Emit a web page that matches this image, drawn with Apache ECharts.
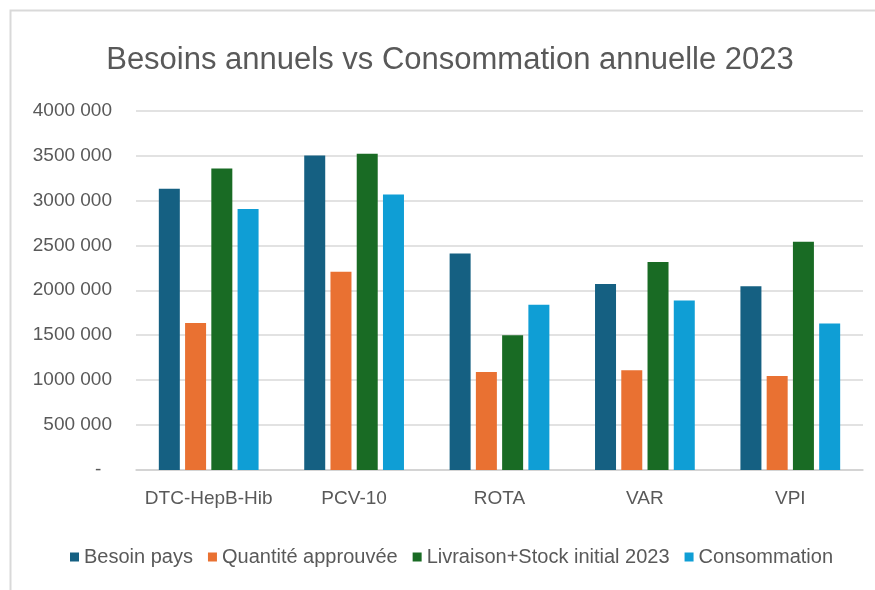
<!DOCTYPE html>
<html>
<head>
<meta charset="utf-8">
<script src="https://cdn.jsdelivr.net/npm/echarts@6/dist/echarts.min.js"></script>
<style>html,body{margin:0;padding:0;background:#fff}#c{width:875px;height:590px}</style>
</head>
<body>
<div id="c"></div>
<script>
var categories = ['DTC-HepB-Hib', 'PCV-10', 'ROTA', 'VAR', 'VPI'];
var seriesNames = ['Besoin pays', 'Quantité approuvée', 'Livraison+Stock initial 2023', 'Consommation'];
var besoinPays = [3130000, 3500000, 2410000, 2070000, 2045000];
var quantiteApprouvee = [1635000, 2205000, 1090000, 1110000, 1045000];
var livraisonStock = [3355000, 3520000, 1500000, 2315000, 2540000];
var consommation = [2905000, 3065000, 1840000, 1885000, 1630000];
var colors = ['#156082', '#E97132', '#196B24', '#0F9ED5'];

var FONT = "'Liberation Sans', Arial, sans-serif";
var chart = echarts.init(document.getElementById('c'), null, {renderer: 'canvas'});
var data = [besoinPays, quantiteApprouvee, livraisonStock, consommation];
chart.setOption({
  animation: false,
  backgroundColor: '#fff',
  color: colors,
  title: {
    text: 'Besoins annuels vs Consommation annuelle 2023',
    left: 445, top: 40, textAlign: 'center',
    textStyle: {fontFamily: FONT, fontSize: 31, fontWeight: 'normal', color: '#595959'}
  },
  legend: {
    bottom: 18, left: 65,
    icon: 'rect', itemWidth: 9, itemHeight: 9, itemGap: 15,
    textStyle: {fontFamily: FONT, fontSize: 20, color: '#595959'},
    data: seriesNames
  },
  grid: {left: 136, right: 12, top: 110.5, bottom: 120, containLabel: false},
  xAxis: {
    type: 'category', data: categories,
    axisLine: {lineStyle: {color: '#d0d0d0', width: 1.5}},
    axisTick: {show: false},
    axisLabel: {fontFamily: FONT, fontSize: 19, color: '#595959', margin: 19, interval: 0}
  },
  yAxis: {
    type: 'value', min: 0, max: 4000000, interval: 500000,
    axisLine: {show: false}, axisTick: {show: false},
    splitLine: {lineStyle: {color: '#d9d9d9', width: 1.5}},
    axisLabel: {
      fontFamily: FONT, fontSize: 19, color: '#595959', margin: 24,
      formatter: function (v) { return v === 0 ? '-  ' : Math.floor(v / 1000) + ' 000'; }
    }
  },
  graphic: [{
    type: 'polyline', silent: true,
    shape: {points: [[10.5, 590], [10.5, 10.5], [875, 10.5]]},
    style: {stroke: '#d9d9d9', lineWidth: 2, fill: null}
  }],
  series: seriesNames.map(function (n, i) {
    return {name: n, type: 'bar', data: data[i], barWidth: 21, barGap: '25%'};
  })
});
</script>
</body>
</html>
